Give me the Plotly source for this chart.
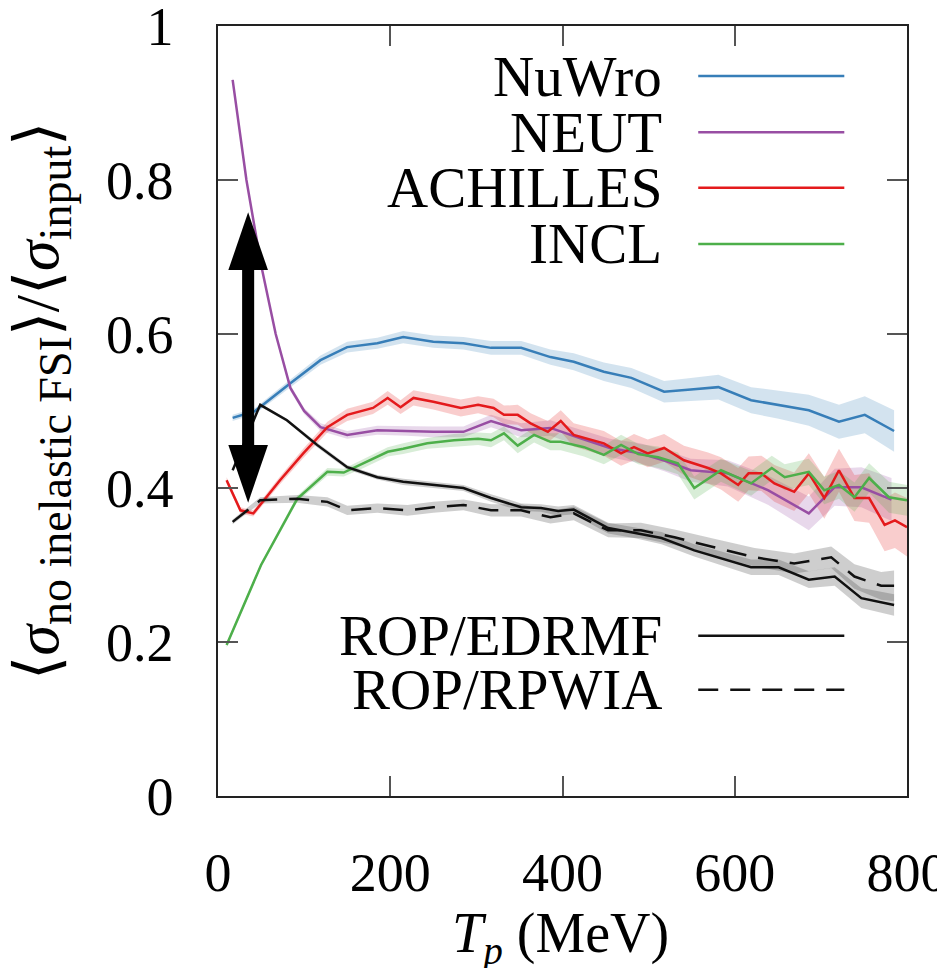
import plotly.graph_objects as go

# ---------------- data ----------------
nuwro_T = [17, 43, 84, 119, 150, 185, 215, 250, 285, 317, 352, 386, 413, 448, 480, 518, 549, 581, 619, 651, 686, 721, 751, 785]
nuwro_y = [0.491, 0.500, 0.536, 0.566, 0.583, 0.588, 0.596, 0.590, 0.588, 0.582, 0.582, 0.570, 0.564, 0.551, 0.543, 0.525, 0.528, 0.531, 0.514, 0.508, 0.501, 0.486, 0.495, 0.474]
nuwro_e = [0.004, 0.004, 0.005, 0.006, 0.007, 0.007, 0.008, 0.008, 0.008, 0.009, 0.009, 0.010, 0.011, 0.012, 0.013, 0.014, 0.015, 0.016, 0.017, 0.018, 0.020, 0.022, 0.024, 0.027]

neut_T = [17, 33, 50, 67, 84, 100, 119, 150, 185, 220, 250, 285, 317, 352, 386, 420, 455, 490, 520, 549, 592, 639, 686, 716, 747, 782]
neut_y = [0.930, 0.800, 0.690, 0.600, 0.530, 0.500, 0.479, 0.469, 0.475, 0.474, 0.473, 0.473, 0.487, 0.475, 0.478, 0.465, 0.452, 0.445, 0.435, 0.423, 0.419, 0.397, 0.367, 0.401, 0.401, 0.385]
neut_e = [0.003, 0.003, 0.003, 0.003, 0.004, 0.004, 0.005, 0.005, 0.006, 0.006, 0.007, 0.007, 0.008, 0.009, 0.010, 0.011, 0.012, 0.013, 0.014, 0.015, 0.017, 0.019, 0.022, 0.024, 0.026, 0.028]

achilles_T = [10, 26, 41, 72, 99, 127, 150, 180, 197, 212, 227, 250, 282, 302, 320, 332, 348, 363, 383, 398, 413, 448, 468, 483, 499, 518, 541, 569, 584, 604, 616, 631, 646, 669, 686, 704, 721, 739, 756, 774, 786, 800]
achilles_y = [0.410, 0.371, 0.367, 0.410, 0.445, 0.479, 0.495, 0.504, 0.517, 0.505, 0.517, 0.512, 0.504, 0.508, 0.504, 0.495, 0.495, 0.484, 0.473, 0.487, 0.469, 0.458, 0.445, 0.453, 0.445, 0.452, 0.436, 0.426, 0.419, 0.404, 0.419, 0.419, 0.406, 0.395, 0.419, 0.387, 0.423, 0.387, 0.387, 0.352, 0.358, 0.349]
achilles_e = [0.004, 0.004, 0.004, 0.005, 0.006, 0.007, 0.008, 0.008, 0.009, 0.009, 0.010, 0.010, 0.011, 0.011, 0.012, 0.012, 0.013, 0.013, 0.014, 0.014, 0.015, 0.016, 0.016, 0.017, 0.018, 0.018, 0.019, 0.020, 0.021, 0.022, 0.022, 0.023, 0.024, 0.025, 0.026, 0.027, 0.028, 0.030, 0.032, 0.034, 0.036, 0.038]

incl_T = [10, 50, 92, 127, 146, 169, 197, 215, 243, 274, 302, 317, 332, 348, 367, 386, 398, 425, 448, 468, 488, 511, 534, 553, 584, 619, 643, 658, 686, 704, 721, 739, 756, 779, 800]
incl_y = [0.196, 0.300, 0.386, 0.421, 0.420, 0.432, 0.447, 0.451, 0.458, 0.462, 0.464, 0.462, 0.471, 0.455, 0.469, 0.460, 0.460, 0.453, 0.443, 0.456, 0.444, 0.440, 0.432, 0.400, 0.423, 0.406, 0.426, 0.414, 0.421, 0.397, 0.404, 0.388, 0.413, 0.388, 0.384]
incl_e = [0.003, 0.003, 0.004, 0.005, 0.005, 0.006, 0.006, 0.007, 0.007, 0.008, 0.008, 0.009, 0.009, 0.010, 0.010, 0.011, 0.011, 0.012, 0.012, 0.013, 0.013, 0.014, 0.014, 0.015, 0.015, 0.016, 0.016, 0.017, 0.017, 0.018, 0.018, 0.019, 0.019, 0.020, 0.020]

edrmf_T = [17, 49, 80, 115, 150, 185, 215, 250, 285, 317, 352, 375, 395, 413, 453, 483, 515, 553, 584, 619, 651, 686, 716, 747, 785]
edrmf_y = [0.423, 0.508, 0.488, 0.456, 0.427, 0.414, 0.408, 0.404, 0.400, 0.387, 0.375, 0.374, 0.370, 0.372, 0.348, 0.342, 0.335, 0.319, 0.309, 0.297, 0.297, 0.281, 0.285, 0.257, 0.248]
edrmf_e = [0.002, 0.002, 0.002, 0.003, 0.003, 0.003, 0.004, 0.004, 0.004, 0.005, 0.005, 0.005, 0.006, 0.006, 0.007, 0.007, 0.008, 0.008, 0.009, 0.010, 0.010, 0.011, 0.012, 0.013, 0.014]

rpwia_T = [17, 49, 92, 127, 150, 185, 220, 250, 285, 317, 352, 386, 413, 453, 491, 530, 576, 623, 669, 712, 739, 770, 785]
rpwia_y = [0.356, 0.384, 0.386, 0.382, 0.371, 0.374, 0.371, 0.375, 0.378, 0.371, 0.371, 0.362, 0.367, 0.345, 0.345, 0.336, 0.323, 0.310, 0.302, 0.310, 0.285, 0.273, 0.273]
rpwia_e = [0.003, 0.004, 0.005, 0.006, 0.006, 0.006, 0.007, 0.007, 0.007, 0.008, 0.008, 0.008, 0.009, 0.009, 0.010, 0.010, 0.011, 0.012, 0.013, 0.014, 0.016, 0.018, 0.020]

x_ticks = [0, 200, 400, 600, 800]
y_ticks = [0, 0.2, 0.4, 0.6, 0.8, 1]
y_tick_labels = ["0", "0.2", "0.4", "0.6", "0.8", "1"]

FONT = "Liberation Serif"

series = [
    ("NuWro", nuwro_T, nuwro_y, nuwro_e, "#377eb8", "rgba(55,126,184,0.22)", "solid"),
    ("NEUT", neut_T, neut_y, neut_e, "#984ea3", "rgba(152,78,163,0.22)", "solid"),
    ("ACHILLES", achilles_T, achilles_y, achilles_e, "#e41a1c", "rgba(228,26,28,0.22)", "solid"),
    ("INCL", incl_T, incl_y, incl_e, "#4daf4a", "rgba(77,175,74,0.22)", "solid"),
    ("ROP/EDRMF", edrmf_T, edrmf_y, edrmf_e, "#111111", "rgba(60,60,60,0.25)", "solid"),
    ("ROP/RPWIA", rpwia_T, rpwia_y, rpwia_e, "#111111", "rgba(60,60,60,0.25)", "20px,12px"),
]

fig = go.Figure()
for name, T, y, e, col, fcol, dash in series:
    upper = [a + b for a, b in zip(y, e)]
    lower = [a - b for a, b in zip(y, e)]
    fig.add_trace(go.Scatter(x=T + T[::-1], y=upper + lower[::-1], fill="toself",
                             fillcolor=fcol, line=dict(width=0), mode="lines",
                             hoverinfo="skip", showlegend=False))
for name, T, y, e, col, fcol, dash in series:
    fig.add_trace(go.Scatter(x=T, y=y, mode="lines", name=name,
                             line=dict(color=col, width=2.5, dash=dash), showlegend=False))

# ---------------- double-headed arrow ----------------
arrow_T = 35
arrow_top, arrow_bot = 0.758, 0.381
head_len, head_half, shaft_half = 0.075, 23, 7
fig.add_shape(type="rect", xref="x", yref="y", x0=arrow_T - shaft_half, x1=arrow_T + shaft_half,
              y0=arrow_bot + head_len - 0.005, y1=arrow_top - head_len + 0.005,
              fillcolor="black", line=dict(width=0))
fig.add_shape(type="path", xref="x", yref="y",
              path=f"M {arrow_T - head_half} {arrow_top - head_len} L {arrow_T + head_half} {arrow_top - head_len} L {arrow_T} {arrow_top} Z",
              fillcolor="black", line=dict(width=0))
fig.add_shape(type="path", xref="x", yref="y",
              path=f"M {arrow_T - head_half} {arrow_bot + head_len} L {arrow_T + head_half} {arrow_bot + head_len} L {arrow_T} {arrow_bot} Z",
              fillcolor="black", line=dict(width=0))

# ---------------- legend (text left, line right) ----------------
legend_rows = [
    ("NuWro", "#377eb8", "solid", 0.935),
    ("NEUT", "#984ea3", "solid", 0.862),
    ("ACHILLES", "#e41a1c", "solid", 0.790),
    ("INCL", "#4daf4a", "solid", 0.717),
    ("ROP/EDRMF", "#111111", "solid", 0.208),
    ("ROP/RPWIA", "#111111", "20px,12px", 0.138),
]
for name, col, dash, yp in legend_rows:
    fig.add_annotation(x=0.648, y=yp, xref="paper", yref="paper", text=name, showarrow=False,
                       xanchor="right", yanchor="middle", font=dict(family=FONT, size=57, color="black"))
    fig.add_shape(type="line", xref="paper", yref="paper", x0=0.697, x1=0.909, y0=yp, y1=yp,
                  line=dict(color=col, width=2.5, dash=dash))

# ---------------- axis titles ----------------
fig.add_annotation(x=0.497, y=-0.184, xref="paper", yref="paper",
                   text="<i>T</i><sub><i>p</i></sub> (MeV)", showarrow=False,
                   xanchor="center", yanchor="middle", font=dict(family=FONT, size=56, color="black"))
fig.add_annotation(x=-0.255, y=0.514, xref="paper", yref="paper", textangle=-90,
                   text="⟨<i>σ</i><sub><span style='font-size:46px'>no inelastic FSI</span></sub>⟩/⟨<i>σ</i><sub><span style='font-size:46px'>input</span></sub>⟩",
                   showarrow=False, xanchor="center", yanchor="middle",
                   font=dict(family=FONT, size=62, color="black"))

axis_common = dict(showgrid=False, zeroline=False, showline=True, linecolor="#222222", linewidth=1.5,
                   mirror="ticks", ticks="inside", ticklen=20, tickwidth=1.5, tickcolor="#555555",
                   automargin=False, ticklabeloverflow="allow",
                   tickfont=dict(family=FONT, size=54, color="black"))
fig.update_xaxes(range=[0, 800], tickvals=x_ticks, ticktext=[str(v) for v in x_ticks],
                 ticklabelstandoff=28, **axis_common)
fig.update_yaxes(range=[0, 1], tickvals=y_ticks, ticktext=y_tick_labels,
                 ticklabelstandoff=32, **axis_common)

# the page body adds an 8px offset; size the figure so the plot frame lands where the reference has it
fig.update_layout(width=937, height=960, margin=dict(l=210, r=38, t=18, b=172),
                  plot_bgcolor="white", paper_bgcolor="white", showlegend=False)

fig.write_html("out.html")
